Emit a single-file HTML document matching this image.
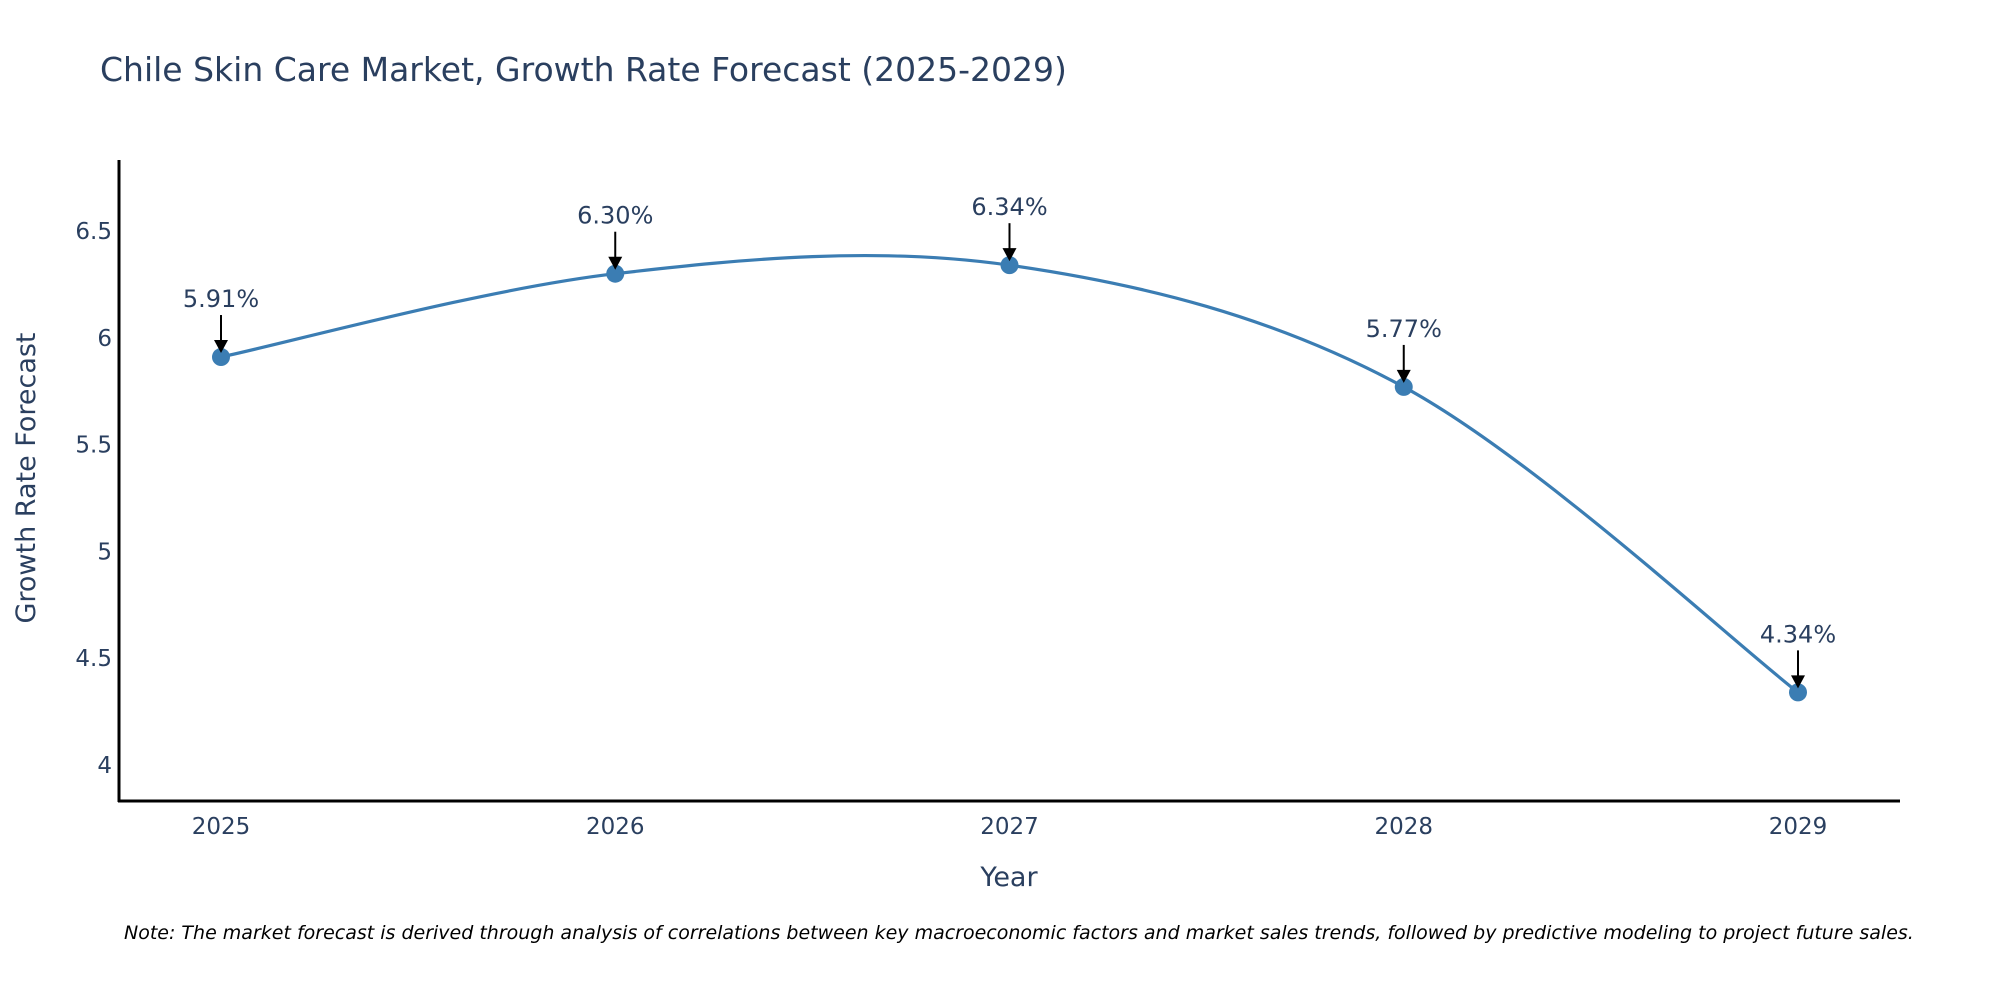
<!DOCTYPE html>
<html><head><meta charset="utf-8"><style>
html,body{margin:0;padding:0;background:#fff;}
svg{display:block;font-family:"DejaVu Sans","Liberation Sans",sans-serif;}
</style></head><body>
<svg id="chart" width="2000" height="1000" viewBox="0 0 2000 1000">
<text x="100" y="81" font-size="33" fill="#2a3f5f">Chile Skin Care Market, Growth Rate Forecast (2025-2029)</text>
<g id="yticks"></g>
<g id="xticks"></g>
<path id="line" fill="none" stroke="#3b7db3" stroke-width="3.2"></path>
<g id="points"></g>
<g id="annots"></g>
<line x1="119" y1="160" x2="119" y2="802" stroke="#000" stroke-width="3"/>
<line x1="118" y1="801" x2="1900" y2="801" stroke="#000" stroke-width="3"/>
<text transform="translate(35,478) rotate(-90)" text-anchor="middle" font-size="27" fill="#2a3f5f">Growth Rate Forecast</text>
<text x="1009" y="886" text-anchor="middle" font-size="27" fill="#2a3f5f">Year</text>
<text x="124" y="939" font-size="19" font-style="italic" fill="#000">Note: The market forecast is derived through analysis of correlations between key macroeconomic factors and market sales trends, followed by predictive modeling to project future sales.</text>
</svg>
<script>
const years = [2025, 2026, 2027, 2028, 2029];
const growth = [5.91, 6.30, 6.34, 5.77, 4.34];
const labels = ["5.91%", "6.30%", "6.34%", "5.77%", "4.34%"];
const yTicks = [4, 4.5, 5, 5.5, 6, 6.5];
const yTickLabels = ["4", "4.5", "5", "5.5", "6", "6.5"];

const NS = "http://www.w3.org/2000/svg";
const xS = v => 221 + (v - 2025) * 394.25;
const yS = v => 765 - (v - 4) * 213.6;
function mk(tag, attrs, parent, txt) {
  const e = document.createElementNS(NS, tag);
  for (const k in attrs) e.setAttribute(k, attrs[k]);
  if (txt !== undefined) e.textContent = txt;
  parent.appendChild(e);
  return e;
}
const yg = document.getElementById('yticks');
yTicks.forEach((t, i) => {
  const e = mk('text', {x: 112, y: yS(t) + 8, 'text-anchor': 'end', 'font-size': 23, fill: '#2a3f5f'}, yg, yTickLabels[i]);
  
  
});
const xg = document.getElementById('xticks');
years.forEach(y => {
  const e = mk('text', {x: xS(y), y: 834, 'text-anchor': 'middle', 'font-size': 23, fill: '#2a3f5f'}, xg, String(y));
  
  
});
const pts = years.map((y, i) => [xS(y), yS(growth[i])]);
let d = `M${pts[0][0]},${pts[0][1]}`;
for (let i = 0; i < pts.length - 1; i++) {
  const p0 = pts[Math.max(0, i - 1)], p1 = pts[i], p2 = pts[i + 1], p3 = pts[Math.min(pts.length - 1, i + 2)];
  const c1 = [p1[0] + (p2[0] - p0[0]) / 6, p1[1] + (p2[1] - p0[1]) / 6];
  const c2 = [p2[0] - (p3[0] - p1[0]) / 6, p2[1] - (p3[1] - p1[1]) / 6];
  d += ` C${c1[0]},${c1[1]} ${c2[0]},${c2[1]} ${p2[0]},${p2[1]}`;
}
document.getElementById('line').setAttribute('d', d);
const pg = document.getElementById('points');
const ag = document.getElementById('annots');
pts.forEach((p, i) => {
  const c = mk('circle', {cx: p[0], cy: p[1], r: 9, fill: '#3b7db3'}, pg);
  
  
  const l = mk('line', {x1: p[0], y1: p[1] - 42, x2: p[0], y2: p[1] - 14, stroke: '#000', 'stroke-width': 2}, ag);
  
  
  const h = mk('polygon', {points: `${p[0]-7},${p[1]-17} ${p[0]+7},${p[1]-17} ${p[0]},${p[1]-4}`, fill: '#000'}, ag);
  
  
  const t = mk('text', {x: p[0], y: p[1] - 50, 'text-anchor': 'middle', 'font-size': 24, fill: '#2a3f5f'}, ag, labels[i]);
  
  
});
</script>
</body></html>
